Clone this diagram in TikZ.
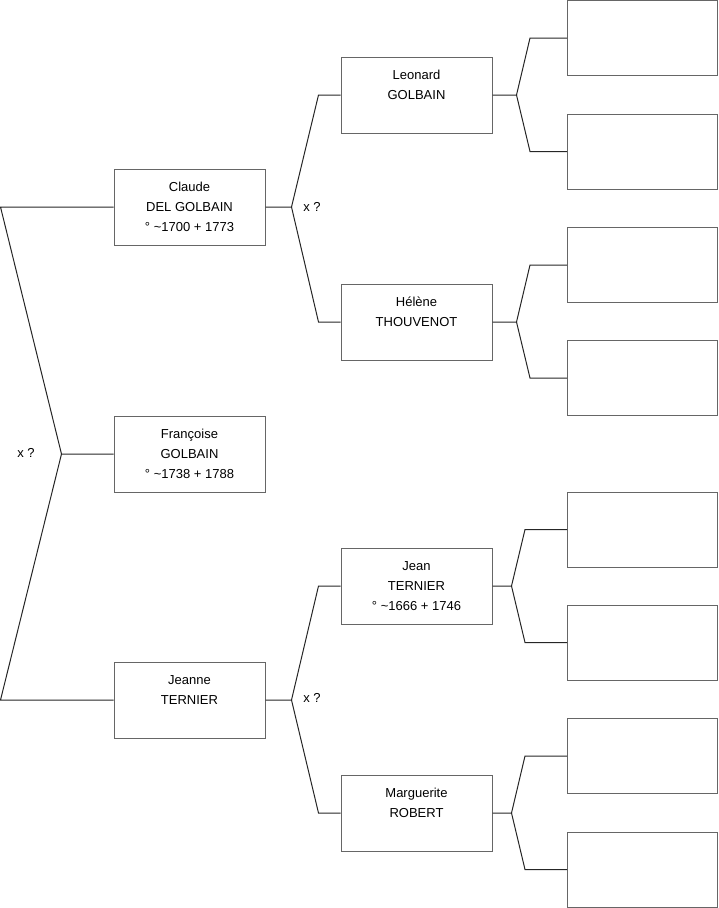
\documentclass[tikz,border=0pt]{standalone}
\usepackage{fontspec}
\setmainfont{Liberation Sans}
\usetikzlibrary{positioning}

\begin{document}
\begin{tikzpicture}[x=1pt, y=-1pt,
  person/.style={draw=black!60, line width=1pt, fill=white,
                 minimum width=151pt, minimum height=76pt,
                 inner sep=0pt, align=center,
                 font=\fontsize{13}{20}\selectfont},
  blank/.style={person, minimum width=150pt, minimum height=75pt},
  link/.style={line width=1pt, black!85},
  union/.style={font=\fontsize{13}{20}\selectfont},
  ]
  \useasboundingbox (0,0) rectangle (719,908);

  % generation 1 and 2
  \node[person] (francoise) at (189.5,454) {Françoise\\GOLBAIN\\° \textasciitilde1738 + 1788};
  \node[person, above=170pt of francoise] (claude) {Claude\\DEL GOLBAIN\\° \textasciitilde1700 + 1773};
  \node[person, below=169pt of francoise] (jeanne) {Jeanne\\TERNIER\\\mbox{}};

  % generation 3
  \node[person] (leonard) at (416.5,95) {Leonard\\GOLBAIN\\\mbox{}};
  \node[person] (helene) at (416.5,322) {Hélène\\THOUVENOT\\\mbox{}};
  \node[person] (jean) at (416.5,586) {Jean\\TERNIER\\° \textasciitilde1666 + 1746};
  \node[person] (marguerite) at (416.5,813) {Marguerite\\ROBERT\\\mbox{}};

  % generation 4 (empty)
  \foreach \y [count=\i] in {38,151.5,265,378,529.5,642.5,756,869.5}
    \node[blank] (b\i) at (642.5,\y) {};

  % unions
  \node[union] (u1) at (26,453) {x ?};
  \node[union] (u2) at (312,207) {x ?};
  \node[union] (u3) at (312,698) {x ?};

  \draw[link] (francoise.west) -- ++(-52,0) coordinate (ff)
    -- ([xshift=-113]claude.west) -- (claude.west);
  \draw[link] (ff) -- ([xshift=-113]jeanne.west) -- (jeanne.west);

  \draw[link] (claude.east) -- ++(26,0) coordinate (fc)
    -- ([xshift=-22]leonard.west) -- (leonard.west);
  \draw[link] (fc) -- ([xshift=-22]helene.west) -- (helene.west);
  \draw[link] (jeanne.east) -- ++(26,0) coordinate (fj)
    -- ([xshift=-22]jean.west) -- (jean.west);
  \draw[link] (fj) -- ([xshift=-22]marguerite.west) -- (marguerite.west);

  \draw[link] (leonard.east) -- ++(24,0) coordinate (fl)
    -- ([xshift=-37]b1.west) -- (b1.west);
  \draw[link] (fl) -- ([xshift=-37]b2.west) -- (b2.west);
  \draw[link] (helene.east) -- ++(24,0) coordinate (fh)
    -- ([xshift=-37]b3.west) -- (b3.west);
  \draw[link] (fh) -- ([xshift=-37]b4.west) -- (b4.west);
  \draw[link] (jean.east) -- ++(19,0) coordinate (fe)
    -- ([xshift=-42]b5.west) -- (b5.west);
  \draw[link] (fe) -- ([xshift=-42]b6.west) -- (b6.west);
  \draw[link] (marguerite.east) -- ++(19,0) coordinate (fm)
    -- ([xshift=-42]b7.west) -- (b7.west);
  \draw[link] (fm) -- ([xshift=-42]b8.west) -- (b8.west);
\end{tikzpicture}
\end{document}
